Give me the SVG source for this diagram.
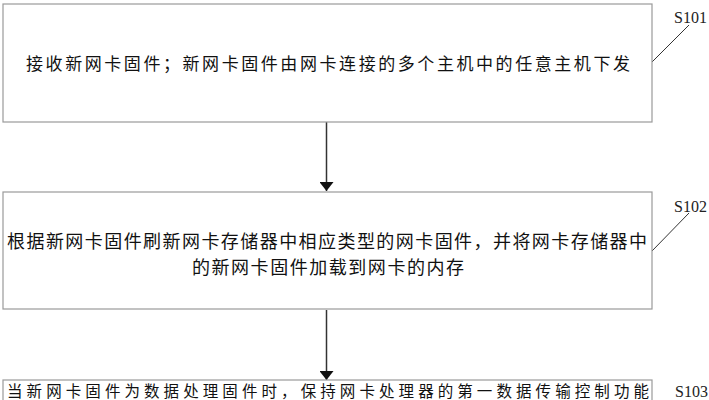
<svg xmlns="http://www.w3.org/2000/svg" width="709" height="400" viewBox="0 0 709 400">
<defs>
<style>
.box{fill:#fff;stroke:#9a9a9a;stroke-width:1.2}
.t{font-family:"Noto Sans CJK SC","Noto Sans CJK JP",sans-serif;fill:#111;dominant-baseline:central}
.lbl{font-family:"Liberation Serif",serif;font-size:16px;fill:#222}
.conn{stroke:#333;stroke-width:1.5;fill:none}
.lead{stroke:#333;stroke-width:1;fill:none}
</style>
<marker id="ah" viewBox="0 0 10 10" refX="10" refY="5" markerWidth="9" markerHeight="14" markerUnits="userSpaceOnUse" orient="auto-start-reverse" preserveAspectRatio="none">
<path d="M0,0 L10,5 L0,10 Z" fill="#111"/>
</marker>
</defs>
<rect width="709" height="400" fill="#fff"/>
<g id="connectors">
<line class="conn" x1="326.5" y1="122" x2="326.5" y2="191" marker-end="url(#ah)"/>
<line class="conn" x1="326.5" y1="310" x2="326.5" y2="380" marker-end="url(#ah)"/>
<line class="lead" x1="652" y1="62" x2="689" y2="25"/>
<line class="lead" x1="652" y1="251" x2="689" y2="213"/>
</g>
<g id="S101">
<rect class="box" x="3" y="4" width="649" height="118"/>
<text class="t" x="26" y="62" font-size="17" textLength="604" lengthAdjust="spacing">接收新网卡固件；新网卡固件由网卡连接的多个主机中的任意主机下发</text>
<text class="lbl" x="674" y="23">S101</text>
</g>
<g id="S102">
<rect class="box" x="3" y="192" width="649" height="117"/>
<text class="t" x="7" y="240" font-size="18" textLength="640" lengthAdjust="spacing">根据新网卡固件刷新网卡存储器中相应类型的网卡固件，并将网卡存储器中</text>
<text class="t" x="192" y="266" font-size="18" textLength="272" lengthAdjust="spacing">的新网卡固件加载到网卡的内存</text>
<text class="lbl" x="674" y="212">S102</text>
</g>
<g id="S103">
<rect class="box" x="3" y="380" width="649" height="40"/>
<text class="t" x="7" y="390" font-size="15.5" textLength="642" lengthAdjust="spacing">当新网卡固件为数据处理固件时，保持网卡处理器的第一数据传输控制功能</text>
<text class="lbl" x="675" y="397">S103</text>
</g>
</svg>
